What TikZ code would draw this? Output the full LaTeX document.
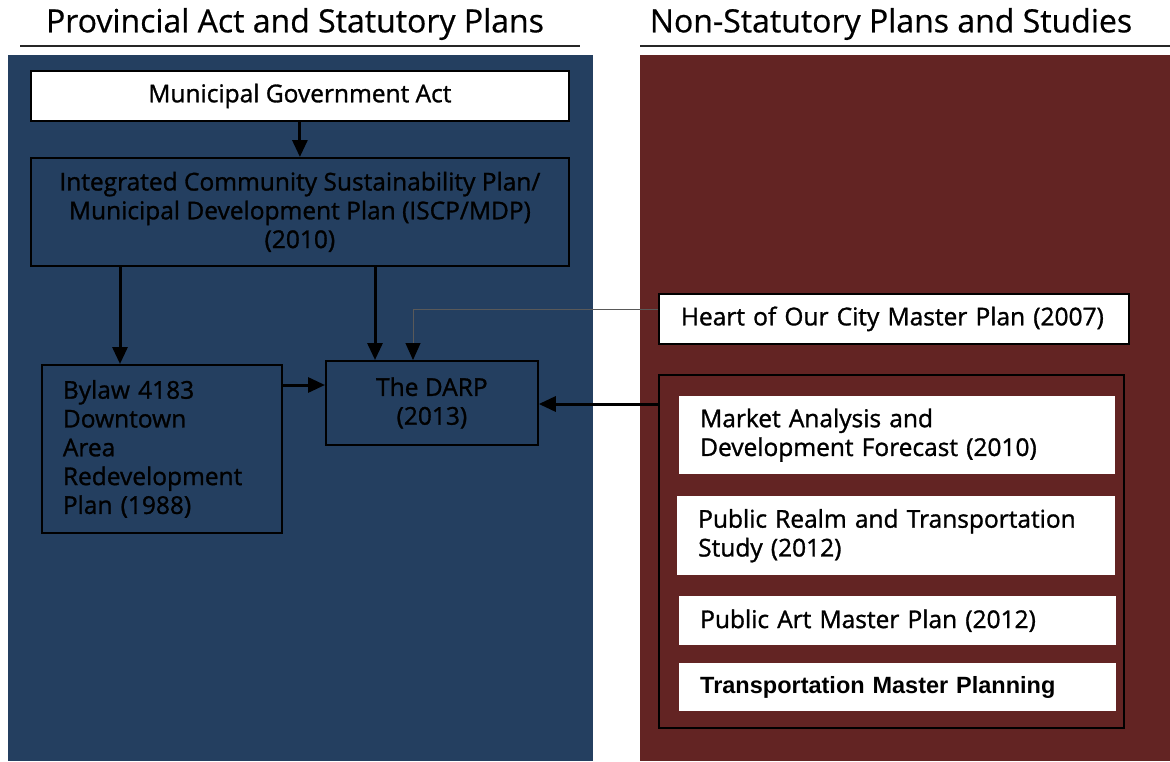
\documentclass[tikz,border=0pt]{standalone}
\usepackage{fontspec}
\setmainfont{Open Sans}[FakeBold=1.2]
\newfontfamily\boxfont{Open Sans}[FakeBold=1.2]
\newfontfamily\titlefont{Open Sans}[FakeBold=0.6]
\newfontfamily\arialbold{Liberation Sans}[BoldFont={Liberation Sans Bold}]
\usetikzlibrary{arrows.meta}
\definecolor{panelblue}{RGB}{36,63,96}
\definecolor{panelred}{RGB}{99,36,35}
\begin{document}
\begin{tikzpicture}[x=1pt,y=-1pt,
  box/.style={draw=black, line width=1.8pt, inner sep=0pt, anchor=north west,
    font=\boxfont\fontsize{24.5}{28.8}\selectfont},
  wbox/.style={fill=white, inner sep=0pt, anchor=north west,
    font=\boxfont\fontsize{24.5}{28.8}\selectfont},
  conn/.style={line width=3pt, -{Triangle[length=17pt,width=15pt]}},
  thinconn/.style={line width=1pt, draw=gray!70!black, -{Triangle[length=17pt,width=15pt,color=black,fill=black]}},
  titletext/.style={font=\titlefont\fontsize{32}{34}\selectfont, inner sep=0pt},
  rule/.style={line width=1.3pt, draw=black!85}
]
\useasboundingbox (0,0) rectangle (1170,761);
% panels
\fill[panelblue] (8,55) rectangle (593,761);
\fill[panelred] (640,55) rectangle (1170,761);
% titles
\node[titletext] (ltitle) at (295,24) {Provincial Act and Statutory Plans};
\node[titletext] (rtitle) at (891,24) {Non-Statutory Plans and Studies};
\draw[rule] (20,46) coordinate (lr1) -- (580,46) coordinate (lr2);
\draw[rule] (640,46) coordinate (rr1) -- (1170,46) coordinate (rr2);
% left side
\node[box, fill=white, minimum width=538, minimum height=50, align=center] (mga) at (30,70) {Municipal Government Act};
\node[box, minimum width=538, minimum height=108, align=center] (iscp) at (30,157)
  {Integrated Community Sustainability Plan/\\Municipal Development Plan (ISCP/MDP)\\(2010)};
\node[box, minimum height=168, text width=198, inner xsep=21, align=left] (bylaw) at (41,364)
  {Bylaw 4183\\Downtown\\Area\\Redevelopment\\Plan (1988)};
\node[box, minimum width=212, minimum height=84, align=center] (darp) at (325,360)
  {The DARP\\(2013)};
% right side
\node[box, fill=white, minimum height=50, text width=426, inner xsep=22, align=left] (heart) at (658,293)
  {Heart of Our City Master Plan (2007)};
\node[box, minimum width=465, minimum height=353] (group) at (658,374) {};
\node[wbox, minimum height=78, text width=394, inner xsep=21, align=left] (mkt) at (679,396)
  {Market Analysis and\\Development Forecast (2010)};
\node[wbox, minimum height=79, text width=396, inner xsep=21, align=left] (prt) at (677,496)
  {Public Realm and Transportation\\Study (2012)};
\node[wbox, minimum height=49, text width=395, inner xsep=21, align=left] (pam) at (679,596)
  {Public Art Master Plan (2012)};
\node[wbox, minimum height=48, text width=395, inner xsep=21, align=left,
  font=\arialbold\bfseries\fontsize{23.5}{26}\selectfont] (tmp) at (679,663)
  {Transportation Master Planning};
% connectors
\draw[conn] (mga.south) -- (iscp.north);
\draw[conn] ([xshift=90pt]iscp.south west) -- ([xshift=90pt]iscp.south west |- bylaw.north);
\draw[conn] ([xshift=345pt]iscp.south west) -- ([xshift=345pt]iscp.south west |- darp.north);
\draw[conn] ([yshift=-21pt]bylaw.north east) -- ([yshift=-21pt]bylaw.north east -| darp.west);
\draw[thinconn] ([yshift=-16pt]heart.north west) -| ([xshift=88pt]darp.north west);
\draw[conn] ([yshift=-30pt]group.north west) -- ([yshift=-30pt]group.north west -| darp.east);
\end{tikzpicture}
\end{document}
